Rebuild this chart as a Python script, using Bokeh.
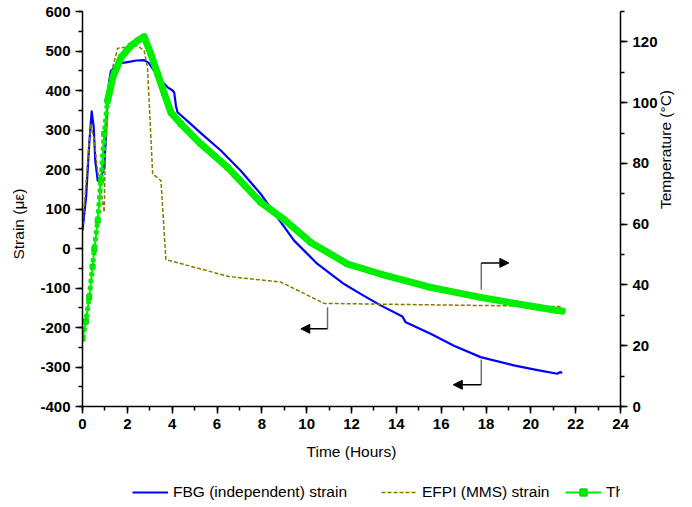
from math import pi
from bokeh.plotting import figure
from bokeh.layouts import column
from bokeh.models import (Range1d, LinearAxis, SingleIntervalTicker, Legend, LegendItem,
                          Arrow, NormalHead, PrintfTickFormatter)
from bokeh.embed import file_html
from bokeh.resources import INLINE

# ---------------- data ----------------
time_fbg = [0, 0.16, 0.30, 0.41, 0.50, 0.57, 0.68, 0.82, 0.97, 1.05, 1.12, 1.19, 1.27, 1.49,
            1.57, 2.01, 2.40, 2.75, 2.95, 3.20, 3.50, 3.80, 4.02, 4.09, 4.17, 4.24, 4.70,
            5.28, 6.17, 7.06, 7.95, 8.70, 9.44, 10.48, 11.67, 12.50, 13.30, 14.27, 14.42,
            15.53, 16.57, 17.76, 19.24, 20.30, 21.18, 21.30, 21.40]
fbg_strain = [45, 130, 265, 347, 307, 222, 172, 180, 205, 290, 383, 425, 450, 462,
              468, 472, 476, 477, 470, 450, 425, 408, 400, 395, 361, 345, 322,
              292, 248, 197, 138, 78, 20, -39, -90, -118, -144, -172, -187,
              -216, -246, -275, -296, -308, -317, -313, -315]

time_efpi = [0, 0.36, 0.53, 0.67, 0.82, 0.97, 1.02, 1.12, 1.27, 1.57, 2.46, 2.75, 2.90,
             3.13, 3.50, 3.72, 6.53, 8.85, 10.78, 21.40]
efpi_strain = [45, 316, 273, 197, 147, 92, 250, 370, 442, 507, 513, 501, 458,
               189, 172, -28, -71, -85, -139, -147]

time_tc = [0, 0.15, 0.30, 0.45, 0.53, 0.68, 0.82, 0.97, 1.12, 1.35, 1.72, 2.16, 2.50,
           2.75, 3.05, 3.35, 3.65, 3.94, 4.39, 5.28, 6.47, 7.95, 9.00, 10.18, 11.82,
           13.30, 15.53, 17.76, 19.24, 21.18, 21.40]
tc_temp = [22.4, 28, 36, 46, 51.9, 61.2, 74.3, 89.7, 100.6, 108.3, 114.9, 118.7, 120.6,
           121.7, 116, 109.5, 103, 96.8, 93, 86.4, 78.7, 67.2, 61.5, 54, 46.9,
           43.6, 39.2, 35.9, 34, 31.6, 31.4]

series_names = ["FBG (independent) strain", "EFPI (MMS) strain", "Thermocouple-1"]

x_ticks_interval = 2
strain_tick_interval = 100
temp_tick_interval = 20

# annotation arrows (time, strain coordinates)
arrow_stem_t = [17.79, 10.93, 17.79]
arrow_stem_from = [-104.7, -148.7, -281.0]
arrow_bend = [-36.4, -203.4, -345.0]
arrow_tip_t = [19.02, 9.74, 16.54]

FONT = "Liberation Sans"
NB = "\u00a0"
GREEN = "#00ee00"
BLUE = "#0000ff"
OLIVE = "#857a00"

# ======================= main chart =======================
p = figure(width=692, height=470, x_range=Range1d(0, 24), y_range=Range1d(-400, 600),
           output_backend="svg", toolbar_location=None,
           min_border_left=82, min_border_right=72, min_border_top=11, min_border_bottom=64)
p.extra_y_ranges = {"temp": Range1d(0, 130)}
p.grid.visible = False
p.outline_line_color = None
p.background_fill_color = "white"
p.border_fill_color = "white"

p.xaxis.ticker = SingleIntervalTicker(interval=x_ticks_interval, num_minor_ticks=2)
p.yaxis.ticker = SingleIntervalTicker(interval=strain_tick_interval, num_minor_ticks=2)
raxis = LinearAxis(y_range_name="temp",
                   ticker=SingleIntervalTicker(interval=temp_tick_interval, num_minor_ticks=2))
p.add_layout(raxis, "right")

for ax in [p.xaxis[0], p.yaxis[0], raxis]:
    ax.formatter = PrintfTickFormatter(format="%d")
    ax.axis_line_width = 1.5
    ax.major_tick_in = 0
    ax.major_tick_out = 7
    ax.minor_tick_in = 0
    ax.minor_tick_out = 4
    ax.major_tick_line_width = 1.5
    ax.minor_tick_line_width = 1.5
    ax.major_label_text_font = FONT
    ax.major_label_text_font_style = "bold"
    ax.major_label_text_font_size = "15px"
    ax.major_label_text_color = "black"
    ax.major_label_standoff = 5
    ax.axis_label_text_font = FONT
    ax.axis_label_text_font_style = "normal"
    ax.axis_label_text_font_size = "15.5px"
    ax.axis_label_text_color = "black"

p.xaxis.axis_label = "Time (Hours)"
p.xaxis.axis_label_standoff = 11
p.yaxis.axis_label = "Strain (με)" + NB * 7
p.yaxis.axis_label_standoff = 10
raxis.axis_label = "Temperature (°C)" + NB * 9
raxis.axis_label_standoff = 5
raxis.axis_label_orientation = pi / 2

p.line(time_fbg, fbg_strain, line_color=BLUE, line_width=2.2, line_join="round")
p.line(time_efpi, efpi_strain, line_color=OLIVE, line_width=1.5, line_dash="4 2")

# thermocouple: thin line + square markers, overdrawn by the thick band
p.line(time_tc, tc_temp, y_range_name="temp", line_color=GREEN, line_width=2)
p.scatter(time_tc, tc_temp, y_range_name="temp", marker="square", size=5,
          fill_color=GREEN, line_color="#00c800")
n_rise = time_tc.index(1.12) + 1
p.line(time_tc[:n_rise], tc_temp[:n_rise], y_range_name="temp", line_color=GREEN,
       line_width=5, line_dash="4 3")
p.line(time_tc[n_rise - 1:], tc_temp[n_rise - 1:], y_range_name="temp", line_color=GREEN,
       line_width=7, line_join="round", line_cap="round")

p.segment(x0=arrow_stem_t, y0=arrow_stem_from, x1=arrow_stem_t, y1=arrow_bend,
          line_color="#707070", line_width=1.5)
for xs, yb, xt in zip(arrow_stem_t, arrow_bend, arrow_tip_t):
    p.add_layout(Arrow(x_start=xs, y_start=yb, x_end=xt, y_end=yb,
                       line_color="black", line_width=1.5,
                       end=NormalHead(size=9, fill_color="black", line_color="black")))

# ======================= legend strip =======================
# the same series are drawn out of view; only their legend entries show
lf = figure(width=692, height=37, x_range=Range1d(100, 101), y_range=Range1d(0, 1),
            output_backend="svg", toolbar_location=None, x_axis_type=None, y_axis_type=None,
            min_border=0, min_border_left=0, min_border_right=0, min_border_top=0,
            min_border_bottom=0)
lf.grid.visible = False
lf.outline_line_color = None
lf.background_fill_color = "white"
lf.border_fill_color = "white"

l_fbg = lf.line(time_fbg, fbg_strain, line_color=BLUE, line_width=2)
l_efpi = lf.line(time_efpi, efpi_strain, line_color=OLIVE, line_width=1.5, line_dash="4 2")
l_tc = lf.line(time_tc, tc_temp, line_color=GREEN, line_width=2)
l_tc_m = lf.scatter(time_tc, tc_temp, marker="square", size=5, fill_color=GREEN,
                    line_color="#00c800")

legend_x = [50, 299, 483]
for name, rends, lx in zip(series_names, [[l_fbg], [l_efpi], [l_tc, l_tc_m]], legend_x):
    lg = Legend(items=[LegendItem(label=name, renderers=rends)], location=(lx, 6),
                orientation="horizontal", glyph_width=36, glyph_height=18, label_height=18,
                label_standoff=5, padding=0, margin=0, border_line_color=None,
                background_fill_alpha=0, label_text_font=FONT,
                label_text_font_size="15.5px", label_text_color="black")
    lf.add_layout(lg, "center")

layout = column(p, lf, spacing=0)
open("out.html", "w").write(file_html(layout, INLINE))
